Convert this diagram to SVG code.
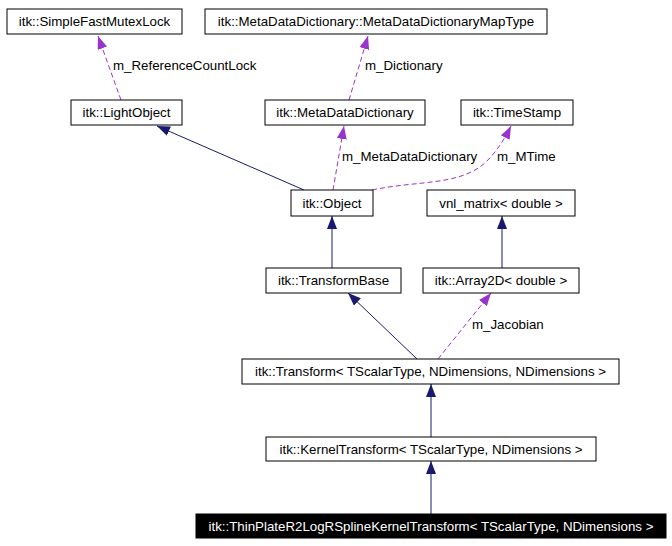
<svg xmlns="http://www.w3.org/2000/svg" width="672" height="546" viewBox="0 0 672 546">
<style>
text{font-family:"Liberation Sans",Arial,sans-serif;font-size:13.3px;fill:#000}
.n rect{fill:#fff;stroke:#000;stroke-width:1}
.n text{text-anchor:middle}
.inh{fill:none;stroke:#191970;stroke-width:1;marker-end:url(#ai)}
.use{fill:none;stroke:#9a32cd;stroke-width:1;stroke-dasharray:5,3;marker-end:url(#au)}
</style>
<defs>
<marker id="ai" markerUnits="userSpaceOnUse" markerWidth="14" markerHeight="10" refX="13" refY="5" orient="auto"><path d="M0,0 L13,5 L0,10 z" fill="#191970"/></marker>
<marker id="au" markerUnits="userSpaceOnUse" markerWidth="14" markerHeight="10" refX="13" refY="5" orient="auto"><path d="M0,0 L13,5 L0,10 z" fill="#9a32cd"/></marker>
</defs>
<rect width="672" height="546" fill="#fff"/>
<g id="edges">
<path class="use" d="M121,100 L98,36"/>
<path class="use" d="M349,100 L368,36"/>
<path class="use" d="M333,190 L344,126"/>
<path class="use" d="M372,190 C420,180 460,186 486,162 C498,150 505,138 511,126"/>
<path class="inh" d="M304,190 L157,126"/>
<path class="inh" d="M332,268 L332,216"/>
<path class="inh" d="M502,268 L502,216"/>
<path class="inh" d="M417,359 L348,293"/>
<path class="use" d="M438,359 L491,293"/>
<path class="inh" d="M431,437 L431,384"/>
<path class="inh" d="M431,514 L431,461"/>
<text x="113" y="70">m_ReferenceCountLock</text>
<text x="365" y="70">m_Dictionary</text>
<text x="342" y="161">m_MetaDataDictionary</text>
<text x="497" y="161">m_MTime</text>
<text x="472" y="329">m_Jacobian</text>
</g>
<g id="n1" class="n"><rect x="7" y="9" width="175" height="25"/><text x="94.5" y="26">itk::SimpleFastMutexLock</text></g>
<g id="n2" class="n"><rect x="205" y="9" width="342" height="25"/><text x="376" y="26">itk::MetaDataDictionary::MetaDataDictionaryMapType</text></g>
<g id="n3" class="n"><rect x="71" y="100" width="111" height="25"/><text x="126.5" y="117">itk::LightObject</text></g>
<g id="n4" class="n"><rect x="265" y="100" width="160" height="25"/><text x="345" y="117">itk::MetaDataDictionary</text></g>
<g id="n5" class="n"><rect x="461" y="100" width="112" height="25"/><text x="517" y="117">itk::TimeStamp</text></g>
<g id="n6" class="n"><rect x="291" y="190" width="82" height="26"/><text x="332" y="208">itk::Object</text></g>
<g id="n7" class="n"><rect x="427" y="190" width="148" height="26"/><text x="501" y="208">vnl_matrix&lt; double &gt;</text></g>
<g id="n8" class="n"><rect x="266" y="268" width="135" height="25"/><text x="333.5" y="285">itk::TransformBase</text></g>
<g id="n9" class="n"><rect x="423" y="268" width="156" height="25"/><text x="501" y="285">itk::Array2D&lt; double &gt;</text></g>
<g id="n10" class="n"><rect x="242" y="359" width="377" height="25"/><text x="430.5" y="376">itk::Transform&lt; TScalarType, NDimensions, NDimensions &gt;</text></g>
<g id="n11" class="n"><rect x="266" y="437" width="330" height="24"/><text x="431" y="454">itk::KernelTransform&lt; TScalarType, NDimensions &gt;</text></g>
<g id="n12"><rect x="196" y="514" width="470" height="24" fill="#000" stroke="#000"/><text x="431" y="531" text-anchor="middle" style="fill:#fff">itk::ThinPlateR2LogRSplineKernelTransform&lt; TScalarType, NDimensions &gt;</text></g>
</svg>
